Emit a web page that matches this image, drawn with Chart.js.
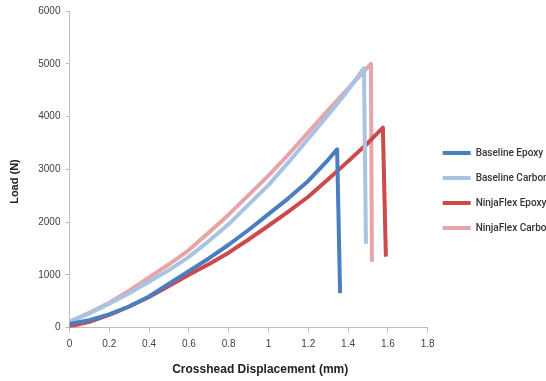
<!DOCTYPE html>
<html>
<head>
<meta charset="utf-8">
<script src="https://cdn.jsdelivr.net/npm/chart.js@4.4.1/dist/chart.umd.min.js"></script>
<style>
  html, body { margin: 0; padding: 0; background: #fff; overflow: hidden; }
  #wrap { width: 562px; height: 381px; }
</style>
</head>
<body>
<div id="wrap"><canvas id="chart"></canvas></div>
<script>
// Crosshead displacement (mm) and load (N) per specimen
var seriesNames = ['Baseline Epoxy', 'Baseline Carbon', 'NinjaFlex Epoxy', 'NinjaFlex Carbon'];

var baseEpoxyX = [0, 0.1, 0.2, 0.3, 0.4, 0.5, 0.6, 0.7, 0.8, 0.9, 1.0, 1.1, 1.2, 1.3, 1.345, 1.36];
var baseEpoxyY = [70, 140, 250, 400, 590, 830, 1070, 1310, 1570, 1850, 2150, 2450, 2780, 3180, 3380, 650];

var baseCarbonX = [0, 0.1, 0.2, 0.3, 0.4, 0.5, 0.6, 0.7, 0.8, 0.9, 1.0, 1.1, 1.2, 1.3, 1.4, 1.48, 1.49];
var baseCarbonY = [110, 270, 455, 650, 870, 1090, 1340, 1640, 1960, 2330, 2700, 3130, 3580, 4030, 4500, 4920, 1590];

var ninjaEpoxyX = [0, 0.1, 0.2, 0.3, 0.4, 0.5, 0.6, 0.7, 0.8, 0.9, 1.0, 1.1, 1.2, 1.3, 1.4, 1.5, 1.575, 1.59];
var ninjaEpoxyY = [20, 110, 240, 400, 580, 790, 1000, 1200, 1420, 1670, 1930, 2200, 2480, 2810, 3150, 3500, 3790, 1345];

var ninjaCarbonX = [0, 0.1, 0.2, 0.3, 0.4, 0.5, 0.6, 0.7, 0.8, 0.9, 1.0, 1.1, 1.2, 1.3, 1.4, 1.515, 1.52];
var ninjaCarbonY = [110, 280, 470, 700, 950, 1200, 1470, 1800, 2140, 2510, 2880, 3280, 3700, 4120, 4530, 5000, 1250];

var xTicks = [0, 0.2, 0.4, 0.6, 0.8, 1, 1.2, 1.4, 1.6, 1.8];
var yTicks = [0, 1000, 2000, 3000, 4000, 5000, 6000];

function toPoints(xs, ys) {
   return xs.map(function (x, i) { return { x: x, y: ys[i] }; });
}

function makeSet(name, xs, ys, color) {
   return {
       label: name,
       data: toPoints(xs, ys),
       borderColor: color,
       backgroundColor: color,
       borderWidth: 4,
       borderJoinStyle: 'round',
       pointRadius: 0,
       pointStyle: 'line',
       showLine: true,
       fill: false,
       tension: 0
   };
}

var axisGray = '#bdbdbd';
var textGray = '#404040';
var pad = '\u00a0';

new Chart(document.getElementById('chart').getContext('2d'), {
   type: 'scatter',
   data: {
       datasets: [
           makeSet(seriesNames[0], baseEpoxyX, baseEpoxyY, '#4a7ebf'),
           makeSet(seriesNames[1], baseCarbonX, baseCarbonY, '#a9c3e3'),
           makeSet(seriesNames[2], ninjaEpoxyX, ninjaEpoxyY, '#cc4a4a'),
           makeSet(seriesNames[3], ninjaCarbonX, ninjaCarbonY, '#e8a4a6')
       ]
   },
   options: {
       responsive: true,
       maintainAspectRatio: false,
       animation: false,
       layout: { padding: { top: 4, left: 8, right: 0, bottom: 4 } },
       plugins: {
           tooltip: { enabled: false },
           legend: {
               position: 'right',
               align: 'center',
               labels: {
                   usePointStyle: true,
                   pointStyleWidth: 28,
                   boxWidth: 28,
                   padding: 15,
                   color: '#333',
                   font: { family: 'Roboto', size: 10, weight: '500' }
               }
           }
       },
       scales: {
           x: {
               type: 'linear',
               min: 0,
               max: 1.8,
               afterBuildTicks: function (axis) {
                   axis.ticks = xTicks.map(function (v) { return { value: v }; });
               },
               grid: { drawOnChartArea: false, color: axisGray, tickLength: 5 },
               border: { color: axisGray, width: 1 },
               ticks: {
                   color: textGray,
                   padding: 6,
                   font: { family: 'Liberation Sans', size: 10 },
                   callback: function (v) { return String(Math.round(v * 10) / 10); }
               },
               title: {
                   display: true,
                   text: pad.repeat(7) + 'Crosshead Displacement (mm)',
                   color: '#222',
                   padding: { top: 6, bottom: 0 },
                   font: { family: 'Liberation Sans', size: 12, weight: 'bold' }
               }
           },
           y: {
               min: 0,
               max: 6000,
               afterBuildTicks: function (axis) {
                   axis.ticks = yTicks.map(function (v) { return { value: v }; });
               },
               grid: { drawOnChartArea: false, color: axisGray, tickLength: 4 },
               border: { color: axisGray, width: 1 },
               ticks: {
                   color: textGray,
                   padding: 5,
                   font: { family: 'Liberation Sans', size: 10 },
                   callback: function (v) { return String(v); }
               },
               title: {
                   display: true,
                   text: 'Load (N)' + pad.repeat(8),
                   color: '#222',
                   padding: { top: 0, bottom: 12 },
                   font: { family: 'Liberation Sans', size: 11, weight: 'bold' }
               }
           }
       }
   }
});
</script>
</body>
</html>
